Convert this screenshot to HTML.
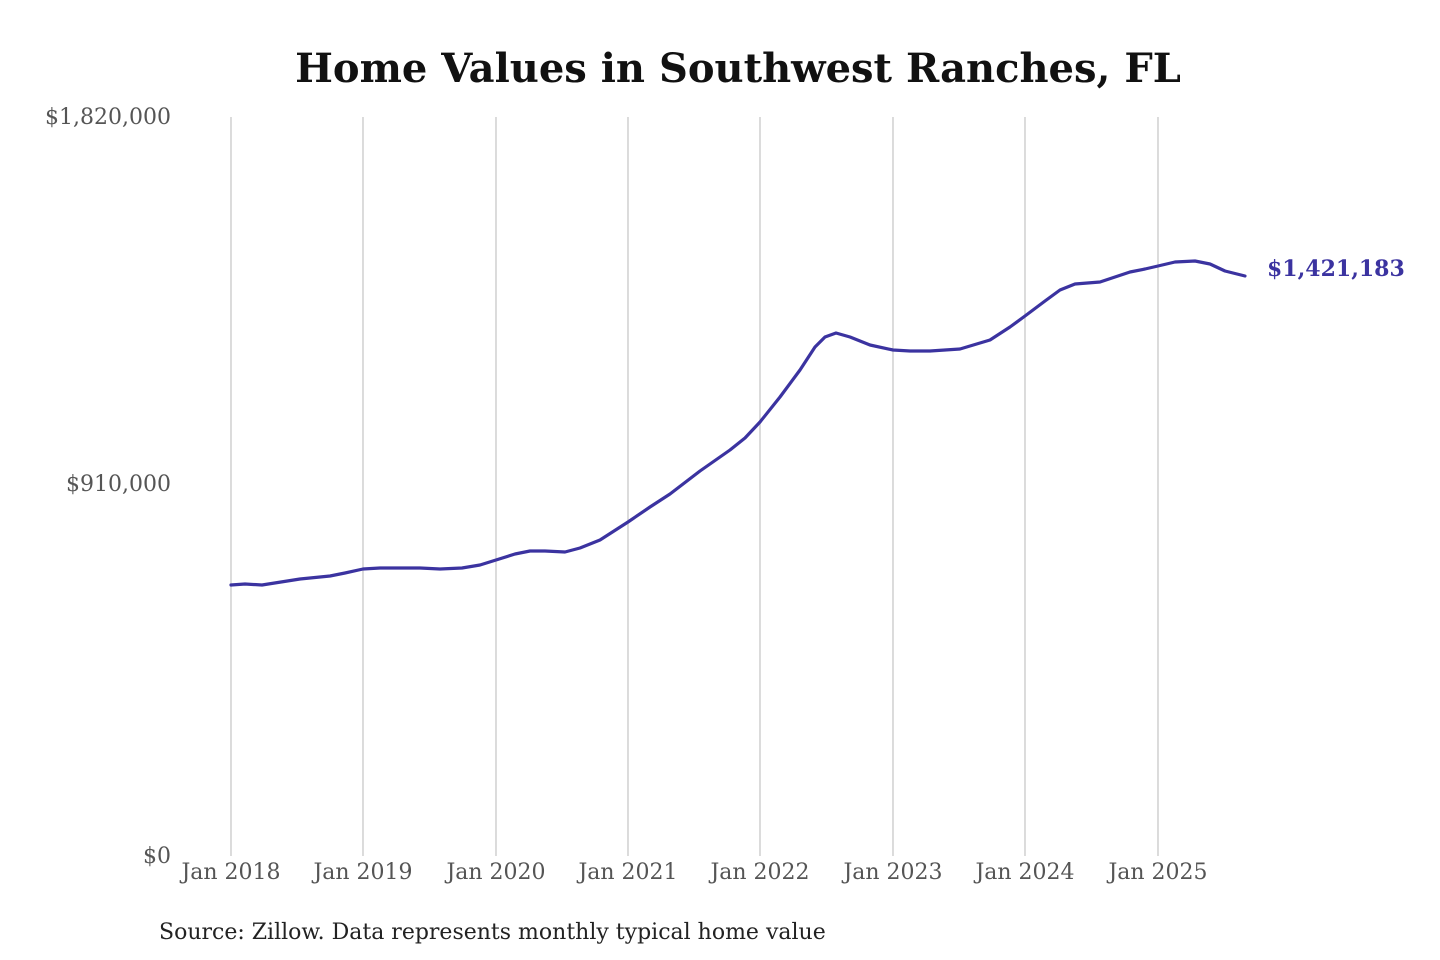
<!DOCTYPE html>
<html><head><meta charset="utf-8"><style>
body{margin:0;background:#fff;}
svg{display:block;}
</style></head><body>
<svg width="1440" height="960" xmlns="http://www.w3.org/2000/svg">
<text x="738" y="82" text-anchor="middle" font-family="DejaVu Serif, Liberation Serif, serif" font-weight="bold" font-size="40" fill="#111">Home Values in Southwest Ranches, FL</text>
<g stroke="#c8c8c8" stroke-width="1.3">
<line x1="231" y1="117" x2="231" y2="856"/>
<line x1="363" y1="117" x2="363" y2="856"/>
<line x1="496" y1="117" x2="496" y2="856"/>
<line x1="628" y1="117" x2="628" y2="856"/>
<line x1="760" y1="117" x2="760" y2="856"/>
<line x1="893" y1="117" x2="893" y2="856"/>
<line x1="1025" y1="117" x2="1025" y2="856"/>
<line x1="1158" y1="117" x2="1158" y2="856"/>
</g>
<g font-family="DejaVu Serif, Liberation Serif, serif" font-size="22" fill="#555" text-anchor="end">
<text x="171" y="124">$1,820,000</text>
<text x="171" y="491">$910,000</text>
<text x="171" y="863">$0</text>
</g>
<g font-family="DejaVu Serif, Liberation Serif, serif" font-size="22" fill="#555" text-anchor="middle">
<text x="231" y="879">Jan 2018</text>
<text x="363" y="879">Jan 2019</text>
<text x="496" y="879">Jan 2020</text>
<text x="628" y="879">Jan 2021</text>
<text x="760" y="879">Jan 2022</text>
<text x="893" y="879">Jan 2023</text>
<text x="1025" y="879">Jan 2024</text>
<text x="1158" y="879">Jan 2025</text>
</g>
<polyline fill="none" stroke="#3b33a0" stroke-width="3.2" stroke-linejoin="round" stroke-linecap="round" points="231,585 245,584 262,585 300,579 330,576 345,573 363,569 380,568 420,568 440,569 462,568 480,565 496,560 515,554 530,551 545,551 565,552 580,548 600,540 628,522 650,507 670,494 700,471 730,450 745,438 760,422 780,397 800,370 815,347 825,337 836,333 850,337 870,345 893,350 910,351 930,351 960,349 990,340 1010,327 1025,316 1045,301 1060,290 1075,284 1100,282 1115,277 1130,272 1145,269 1158,266 1175,262 1195,261 1210,264 1225,271 1245,276"/>
<text x="1267" y="276" font-family="DejaVu Serif, Liberation Serif, serif" font-weight="bold" font-size="22" fill="#3b33a0">$1,421,183</text>
<text x="159" y="939" font-family="DejaVu Serif, Liberation Serif, serif" font-size="22" fill="#222">Source: Zillow. Data represents monthly typical home value</text>
</svg>
</body></html>
